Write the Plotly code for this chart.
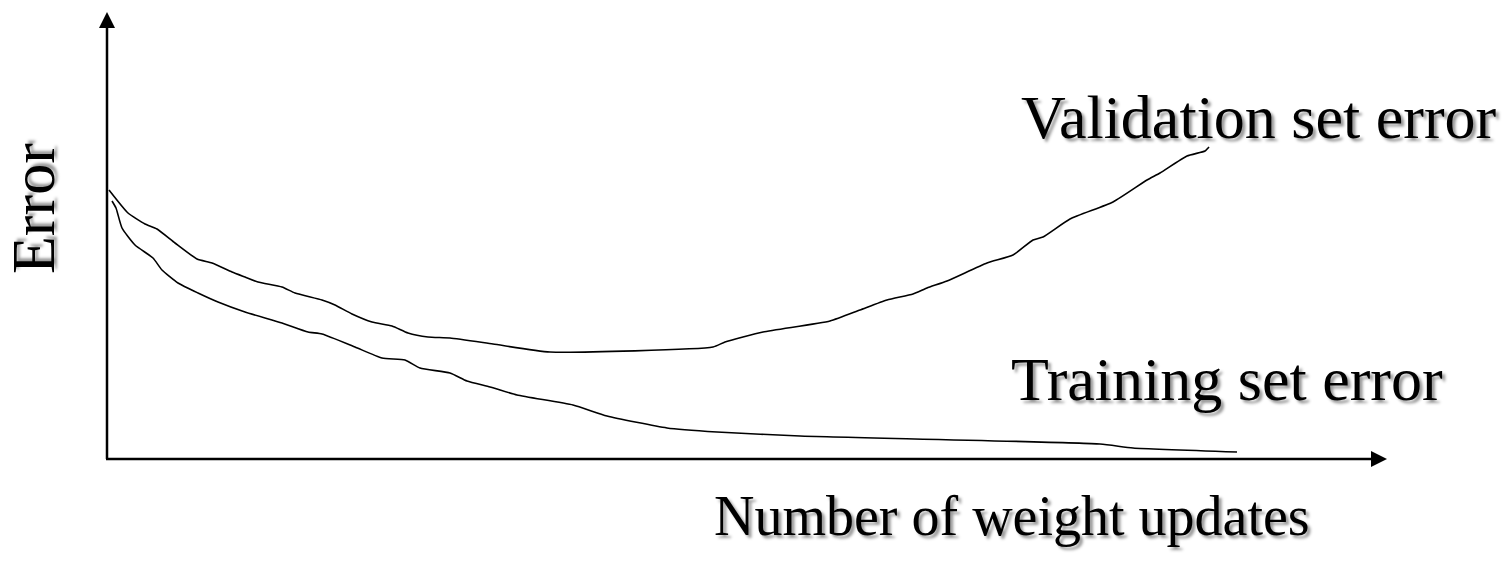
import plotly.graph_objects as go

# Data (x: weight updates, y: error)
val_x = [2, 21, 38, 50, 68, 90, 105, 125, 138, 151, 175, 188, 215, 228, 245, 265, 285, 301, 321, 343,
         386, 443, 606, 618, 656, 723, 753, 780, 806, 820, 840, 880, 906, 926, 936, 963, 1006, 1040,
         1053, 1080, 1098, 1102]
val_y = [269, 246, 235, 230, 216, 200, 196, 187, 182, 177, 172, 166, 159, 154, 145, 137, 133, 126, 122, 121,
         115, 107, 112, 117, 127, 138, 149, 159, 165, 171, 178, 196, 204, 219, 222, 240, 257, 279,
         286, 303, 308, 312]

train_x = [5, 9, 15, 28, 46, 55, 71, 91, 111, 138, 175, 201, 215, 248, 275, 298, 313, 343, 360, 383,
           410, 466, 500, 560, 610, 693, 993, 1026, 1130]
train_y = [258, 251, 231, 214, 201, 189, 176, 166, 157, 147, 136, 127, 125, 112, 101, 99, 91, 86, 78, 72,
           64, 54, 43, 31, 27, 23, 15, 11, 7]

labels = {
    "validation": "Validation set error",
    "training": "Training set error",
    "x": "Number of weight updates",
    "y": "Error",
}

X_MIN, X_MAX = -107, 1400
Y_MIN, Y_MAX = -104, 459
X_TIP, Y_TIP = 1280, 447

fig = go.Figure()
fig.add_trace(go.Scatter(x=val_x, y=val_y, mode="lines",
                         line=dict(color="black", width=1.6, shape="spline", smoothing=0.5),
                         hoverinfo="skip", showlegend=False))
fig.add_trace(go.Scatter(x=train_x, y=train_y, mode="lines",
                         line=dict(color="black", width=1.6, shape="spline", smoothing=0.5),
                         hoverinfo="skip", showlegend=False))

shapes = [
    dict(type="line", xref="x", yref="y", x0=0, y0=0, x1=0, y1=Y_TIP - 14,
         line=dict(color="black", width=2.5)),
    dict(type="line", xref="x", yref="y", x0=-1, y0=0, x1=X_TIP - 14, y1=0,
         line=dict(color="black", width=2.5)),
    dict(type="path", xref="x", yref="y",
         path=f"M -8,{Y_TIP-16} L 0,{Y_TIP} L 8,{Y_TIP-16} Z",
         fillcolor="black", line=dict(color="black", width=0)),
    dict(type="path", xref="x", yref="y",
         path=f"M {X_TIP-16},-8 L {X_TIP},0 L {X_TIP-16},8 Z",
         fillcolor="black", line=dict(color="black", width=0)),
]

font = dict(family="Liberation Serif, Times New Roman, serif", size=62, color="black",
            shadow="3px 3px 3px #999")
font_x = dict(font, size=56)
annotations = [
    dict(x=1152, y=342, xref="x", yref="y", text=labels["validation"], showarrow=False,
         xanchor="center", yanchor="middle", font=font),
    dict(x=1120, y=80, xref="x", yref="y", text=labels["training"], showarrow=False,
         xanchor="center", yanchor="middle", font=font),
    dict(x=905, y=-57, xref="x", yref="y", text=labels["x"], showarrow=False,
         xanchor="center", yanchor="middle", font=font_x),
    dict(x=-74, y=250, xref="x", yref="y", text=labels["y"], showarrow=False, textangle=-90,
         xanchor="center", yanchor="middle", font=font),
]

fig.update_layout(
    width=1507, height=563,
    margin=dict(l=0, r=0, t=0, b=0),
    paper_bgcolor="white", plot_bgcolor="white",
    xaxis=dict(range=[X_MIN, X_MAX], visible=False, fixedrange=True),
    yaxis=dict(range=[Y_MIN, Y_MAX], visible=False, fixedrange=True),
    shapes=shapes, annotations=annotations,
)

fig.write_html("out.html", config={"displayModeBar": False},
               post_script="document.body.style.margin='0';document.body.style.overflow='hidden';")
